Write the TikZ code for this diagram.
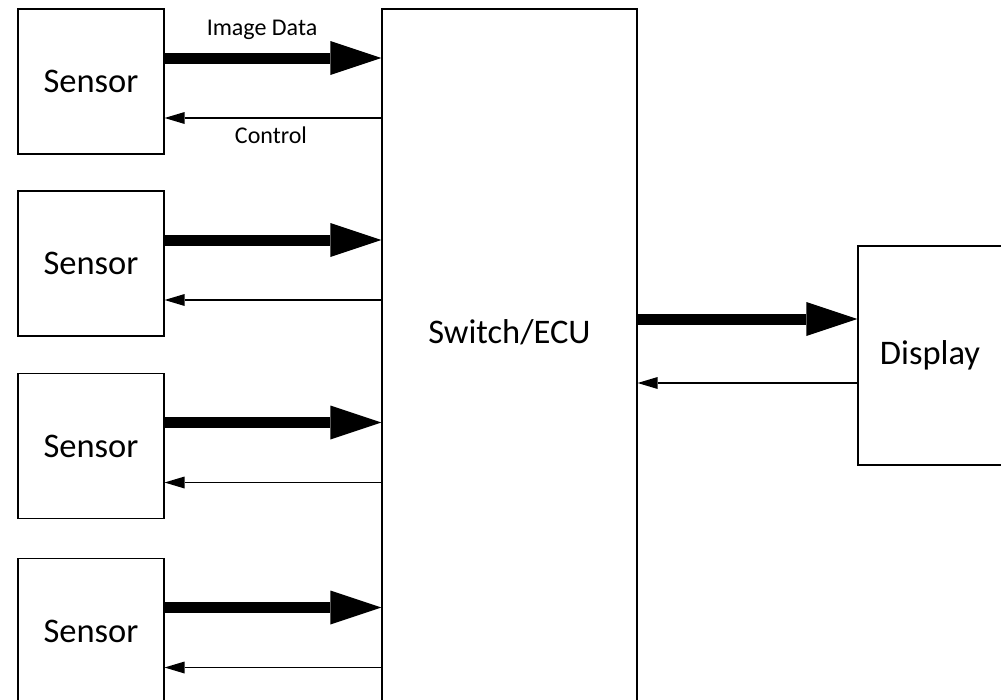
\documentclass[tikz,border=0pt]{standalone}
\usepackage{fontspec}
\setmainfont{Carlito}
\usetikzlibrary{arrows.meta}
\definecolor{ecublack}{HTML}{000000}

\begin{document}
\begin{tikzpicture}[x=1pt,y=-1pt,
  box/.style={draw=ecublack,line width=1.2pt,minimum width=146pt,minimum height=145pt,inner sep=0pt,font=\fontsize{34.5}{40}\selectfont},
  bigarrow/.style={draw=ecublack,line width=11pt,-{Triangle[length=51pt,width=34pt,line width=0pt]}},
  smallarrow/.style={draw=ecublack,line width=1.2pt,-{Triangle[length=20pt,width=12pt,line width=0pt]}},
  lbl/.style={font=\fontsize{24}{28}\selectfont,inner sep=0pt}]
\useasboundingbox (0,0) rectangle (1001,699); %Page size of the reference
\clip (0,0) rectangle (1001,699); %Boxes at the bottom and right run off the page
\node[box] (s1) at (91,81.5) {Sensor}; %Sensor boxes
\node[box] (s2) at (91,263.5) {Sensor};
\node[box] (s3) at (91,446) {Sensor};
\node[box] (s4) at (91,631) {Sensor};
\node[box,minimum width=255pt,minimum height=740pt] (ecu) at (509.5,379) {}; %Switch/ECU block
\node[font=\fontsize{34.5}{40}\selectfont,inner sep=0pt] (ecutext) at (509.5,332) {Switch/ECU};
\node[box,minimum width=144pt,minimum height=219pt] (disp) at (930,355.5) {Display}; %Display block
\foreach \i in {1,...,4} {
  \coordinate (dat\i) at ([yshift=23.5pt]s\i.east);
  \coordinate (ctl\i) at ([yshift=-36.5pt]s\i.east);
  \draw[bigarrow] (dat\i) -- (dat\i -| ecu.west); %Image data
  \draw[smallarrow] (ctl\i -| ecu.west) -- (ctl\i); %Control
}
\node[lbl,anchor=base] (imgdata) at (262,35) {Image Data};
\node[lbl,anchor=base] (ctrl) at (271,143) {Control};
\coordinate (vid) at ([yshift=36.5pt]disp.west);
\coordinate (back) at ([yshift=-27.5pt]disp.west);
\draw[bigarrow] (vid -| ecu.east) -- (vid); %Video out to display
\draw[smallarrow] (back) -- (back -| ecu.east); %Display back channel
\end{tikzpicture}
\end{document}
